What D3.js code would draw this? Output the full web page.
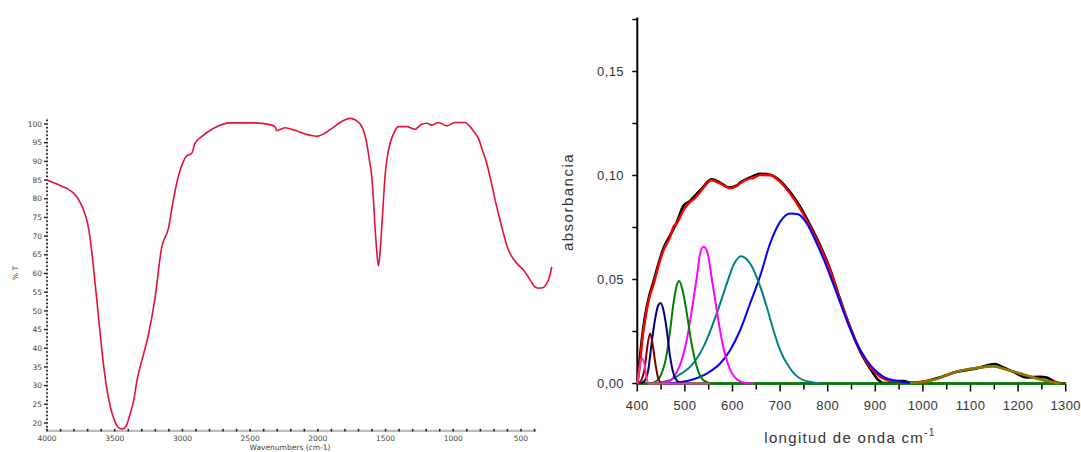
<!DOCTYPE html>
<html>
<head>
<meta charset="utf-8">
<script src="https://cdn.jsdelivr.net/npm/d3@7/dist/d3.min.js"></script>
<style>
  html, body { margin: 0; padding: 0; background: #fff; }
  svg { display: block; }
</style>
</head>
<body>
<svg id="chart" width="1081" height="452"></svg>
<script>
// ---------- IR spectrum (left panel): wavenumber (cm-1) vs %T ----------
const irWavenumber = [4000, 3900, 3820, 3770, 3720, 3695, 3670, 3645, 3620, 3595, 3560, 3530, 3500, 3470, 3440, 3415, 3390, 3360, 3335, 3290, 3255, 3204, 3153, 3104, 3067, 3030, 2993, 2968, 2932, 2907, 2858, 2772, 2648, 2476, 2340, 2315, 2304, 2275, 2242, 2170, 2107, 2050, 2008, 1959, 1910, 1836, 1790, 1762, 1720, 1688, 1660, 1639, 1620, 1602, 1590, 1578, 1565, 1553, 1540, 1528, 1515, 1504, 1490, 1467, 1440, 1405, 1343, 1282, 1240, 1196, 1159, 1110, 1048, 987, 913, 876, 845, 815, 785, 753, 720, 691, 660, 630, 600, 568, 520, 483, 433, 400, 371, 340, 309, 290, 273];
const irTransmittance = [85, 83.5, 82, 80, 76, 72.5, 66, 57.5, 48.5, 39.5, 29.5, 24, 20.5, 18.7, 18.4, 19.2, 22, 26, 31.5, 38, 43, 53, 67, 72, 79.7, 86, 90, 91.5, 92.1, 94.8, 96.6, 98.8, 100.3, 100.3, 99.7, 99.2, 98.2, 98.6, 99, 98.3, 97.5, 96.9, 96.7, 97.3, 98.5, 100.4, 101.3, 101.5, 101, 100, 98, 94.8, 90.5, 86, 80, 72.5, 66, 62, 66, 72.5, 80, 86, 90.5, 94.8, 97.5, 99.3, 99.3, 98.6, 99.8, 100.2, 99.7, 100.4, 99.5, 100.4, 100.4, 99.3, 97.8, 96.2, 93, 89.5, 84.5, 79.7, 75, 70.8, 67, 64.5, 62.3, 61, 58.3, 56.5, 56.1, 56.2, 57.4, 59, 61.8];
const irXTickLabels = [4000, 3500, 3000, 2500, 2000, 1500, 1000, 500];
const irYTickLabels = [20, 25, 30, 35, 40, 45, 50, 55, 60, 65, 70, 75, 80, 85, 90, 95, 100];

// ---------- Band deconvolution (right panel): wavenumber vs absorbance ----------
const expWn  = [400, 404, 410, 416, 425, 434, 445, 455, 469, 483, 497, 511, 518, 535, 556, 574, 593, 609, 616, 637, 658, 679, 700, 721, 742, 763, 784, 805, 826, 847, 868, 889, 905, 916, 930, 945, 960, 975, 985, 1015, 1050, 1071, 1099, 1120, 1151, 1169, 1190, 1218, 1246, 1260, 1277, 1290, 1300];
const expAbs = [0, 0.009, 0.022, 0.032, 0.042, 0.049, 0.058, 0.065, 0.0712, 0.0775, 0.0855, 0.0878, 0.0895, 0.0935, 0.0982, 0.0966, 0.0942, 0.0952, 0.0966, 0.0991, 0.1008, 0.1004, 0.0975, 0.092, 0.085, 0.0762, 0.0665, 0.055, 0.0405, 0.027, 0.0155, 0.0072, 0.002, 0.0002, 0.0003, 0.0012, 0.0012, 0.0003, 0.0003, 0.0016, 0.004, 0.0056, 0.0067, 0.0077, 0.0093, 0.0077, 0.0056, 0.0029, 0.0032, 0.0029, 0.0008, 0, 0];

const fitWn  = [400, 405, 410, 416, 425, 434, 445, 455, 469, 476, 483, 497, 511, 518, 532, 540, 556, 574, 595, 609, 616, 637, 644, 658, 679, 700, 721, 742, 763, 784, 805, 826, 847, 868, 889, 910, 938, 973, 1000, 1030, 1057, 1085, 1120, 1148, 1176, 1204, 1232, 1260, 1290, 1300];
const fitAbs = [0, 0.008, 0.02, 0.030, 0.041, 0.0475, 0.057, 0.064, 0.0705, 0.0754, 0.077, 0.0833, 0.0873, 0.0885, 0.0921, 0.0945, 0.0977, 0.0962, 0.0938, 0.0949, 0.0962, 0.0986, 0.0988, 0.1002, 0.1001, 0.0969, 0.0913, 0.0841, 0.0753, 0.0657, 0.0545, 0.040, 0.0272, 0.016, 0.008, 0.0032, 0.001, 0.0004, 0.001, 0.0022, 0.0048, 0.0064, 0.0077, 0.0083, 0.0067, 0.0048, 0.0029, 0.0013, 0.0002, 0];

const band411Wn  = [400, 404, 409, 414, 418, 423, 553];
const band411Abs = [0, 0.0064, 0.012, 0.0104, 0.0048, 0, 0];

const band427Wn  = [404, 411, 416, 421, 427, 432, 438, 444, 451];
const band427Abs = [0, 0.003, 0.008, 0.0176, 0.024, 0.0192, 0.0096, 0.0024, 0];

const band449Wn  = [407, 416, 423, 430, 437, 444, 449, 455, 462, 469, 476, 486, 496];
const band449Abs = [0, 0.0015, 0.0064, 0.0192, 0.0304, 0.0376, 0.0387, 0.0352, 0.0256, 0.0128, 0.0048, 0.0008, 0];

const band487Wn  = [428, 442, 451, 462, 469, 476, 483, 488, 495, 504, 514, 525, 539, 556];
const band487Abs = [0, 0.0015, 0.0048, 0.0144, 0.0256, 0.0385, 0.0473, 0.0493, 0.0449, 0.0337, 0.0192, 0.008, 0.0016, 0];

const band538Wn  = [450, 466, 476, 490, 504, 514, 525, 532, 539, 547, 556, 567, 577, 591, 609, 625, 644];
const band538Abs = [0, 0.0008, 0.003, 0.009, 0.021, 0.0345, 0.051, 0.0625, 0.0657, 0.0633, 0.0512, 0.0352, 0.0215, 0.009, 0.002, 0.0004, 0];

const band618Wn  = [428, 469, 490, 511, 539, 567, 588, 602, 618, 637, 658, 672, 686, 700, 721, 742, 770, 784];
const band618Abs = [0, 0.0016, 0.0045, 0.008, 0.0176, 0.0337, 0.048, 0.0569, 0.0612, 0.0577, 0.0468, 0.0368, 0.0256, 0.016, 0.0072, 0.0024, 0.0005, 0];

const band729Wn  = [460, 490, 511, 546, 574, 595, 616, 637, 658, 679, 700, 721, 738, 756, 777, 798, 819, 840, 861, 882, 903, 924, 952, 973];
const band729Abs = [0, 0.0006, 0.0016, 0.0048, 0.0096, 0.016, 0.0256, 0.0385, 0.0516, 0.0673, 0.0777, 0.0817, 0.0814, 0.0769, 0.0673, 0.0561, 0.0433, 0.0304, 0.0192, 0.0112, 0.0056, 0.0024, 0.0011, 0.0003];

const band1148Wn  = [973, 1001, 1029, 1057, 1085, 1120, 1148, 1176, 1204, 1232, 1260, 1288];
const band1148Abs = [0, 0.0008, 0.0021, 0.0048, 0.0064, 0.0077, 0.0083, 0.0067, 0.0048, 0.0029, 0.0013, 0];

const baselineWn  = [400, 1300];
const baselineAbs = [0, 0];

const absXTickLabels = [400, 500, 600, 700, 800, 900, 1000, 1100, 1200, 1300];
const absYTickLabels = [0, 0.05, 0.10, 0.15];

const zip = (xs, ys) => xs.map((x, i) => [x, ys[i]]);

const svg = d3.select("#chart");
svg.append("rect").attr("width", 1081).attr("height", 452).attr("fill", "#fff");

// ================= Left panel =================
const irX = d3.scaleLinear().domain([4000, 500]).range([47, 521]);
const irY = d3.scaleLinear().domain([20, 100]).range([423, 124]);
const irAxisBottom = 17.9, irAxisTop = 101.6, irAxisEndWn = 388;
const left = svg.append("g").attr("font-family", "Verdana, 'DejaVu Sans', sans-serif");

// vertical axis: faint line with a dotted run of minor ticks
left.append("line")
  .attr("x1", irX(4000)).attr("x2", irX(4000))
  .attr("y1", irY(irAxisTop)).attr("y2", irY(irAxisBottom))
  .attr("stroke", "#c8c8c8").attr("stroke-width", 1);
const minorY = d3.range(18, 102, 1);
left.append("g").selectAll("rect").data(minorY).join("rect")
  .attr("x", d => irX(4000) - (d % 5 === 0 ? 3 : 1))
  .attr("y", d => irY(d) - 0.7)
  .attr("width", d => (d % 5 === 0 ? 4 : 2))
  .attr("height", 1.4)
  .attr("fill", "#222");
left.append("g").selectAll("text").data(irYTickLabels).join("text")
  .attr("x", irX(4000) - 5).attr("y", d => irY(d))
  .attr("dy", "0.35em").attr("text-anchor", "end")
  .attr("font-size", 7.5).attr("fill", "#444")
  .text(d => d);

// horizontal axis: grey bar with tick dots every 100 cm-1
left.append("line")
  .attr("x1", irX(4000)).attr("x2", irX(irAxisEndWn))
  .attr("y1", irY(irAxisBottom)).attr("y2", irY(irAxisBottom))
  .attr("stroke", "#bdbdbd").attr("stroke-width", 2.2);
const minorX = d3.range(4000, 399, -100);
left.append("g").selectAll("rect").data(minorX).join("rect")
  .attr("x", d => irX(d) - 0.8)
  .attr("y", irY(irAxisBottom) - 2)
  .attr("width", 1.6).attr("height", 2.6)
  .attr("fill", "#222");
left.append("g").selectAll("text").data(irXTickLabels).join("text")
  .attr("x", d => irX(d)).attr("y", 441)
  .attr("text-anchor", "middle")
  .attr("font-size", 7.5).attr("fill", "#444")
  .text(d => d);

left.append("text")
  .attr("transform", `translate(18,273) rotate(-90)`)
  .attr("text-anchor", "middle").attr("font-size", 7.5).attr("fill", "#444")
  .text("% T");
left.append("text")
  .attr("x", 290).attr("y", 449.5)
  .attr("text-anchor", "middle").attr("font-size", 7.5).attr("fill", "#444")
  .text("Wavenumbers (cm-1)");

const irLine = d3.line().x(d => irX(d[0])).y(d => irY(d[1])).curve(d3.curveMonotoneX);
left.append("path")
  .datum(zip(irWavenumber, irTransmittance))
  .attr("d", irLine)
  .attr("fill", "none").attr("stroke", "#e5103c").attr("stroke-width", 1.6)
  .attr("stroke-linejoin", "round");

// ================= Right panel =================
const ax = d3.scaleLinear().domain([400, 1300]).range([637.3, 1065.7]);
const ay = d3.scaleLinear().domain([0, 0.175]).range([383.5, 19.5]);
const right = svg.append("g").attr("font-family", "Arial, 'Liberation Sans', sans-serif");

const comma = v => d3.format(".2f")(v).replace(".", ",");

// y axis
right.append("line")
  .attr("x1", ax(400)).attr("x2", ax(400))
  .attr("y1", ay(0.175) - 2).attr("y2", ay(0) + 1)
  .attr("stroke", "#000").attr("stroke-width", 2);
right.append("g").selectAll("line").data(d3.range(0, 0.176, 0.025)).join("line")
  .attr("x1", ax(400) - 5).attr("x2", ax(400))
  .attr("y1", d => ay(d)).attr("y2", d => ay(d))
  .attr("stroke", "#000").attr("stroke-width", 1.5);
right.append("g").selectAll("text").data(absYTickLabels).join("text")
  .attr("x", 624).attr("y", d => ay(d))
  .attr("dy", "0.36em").attr("text-anchor", "end")
  .attr("font-size", 13).attr("fill", "#333").attr("letter-spacing", 0.4)
  .text(comma);

// x axis
right.append("line")
  .attr("x1", ax(400)).attr("x2", ax(1300))
  .attr("y1", ay(0)).attr("y2", ay(0))
  .attr("stroke", "#000").attr("stroke-width", 2);
right.append("g").selectAll("line").data(d3.range(400, 1301, 50)).join("line")
  .attr("x1", d => ax(d)).attr("x2", d => ax(d))
  .attr("y1", ay(0)).attr("y2", d => ay(0) + (d % 100 === 0 ? 8 : 6))
  .attr("stroke", "#000").attr("stroke-width", 1.5);
right.append("g").selectAll("text").data(absXTickLabels).join("text")
  .attr("x", d => ax(d)).attr("y", 409.5)
  .attr("text-anchor", "middle")
  .attr("font-size", 13).attr("fill", "#333").attr("letter-spacing", 0.4)
  .text(d => d);

// axis titles
const xTitle = right.append("text")
  .attr("x", 850).attr("y", 443)
  .attr("text-anchor", "middle")
  .attr("font-size", 15).attr("fill", "#333").attr("letter-spacing", 1.3);
xTitle.append("tspan").text("longitud de onda cm");
xTitle.append("tspan").attr("dy", -7).attr("font-size", 10).text("-1");

right.append("text")
  .attr("transform", "translate(573,202) rotate(-90)")
  .attr("text-anchor", "middle")
  .attr("font-size", 15).attr("fill", "#333").attr("letter-spacing", 1.5)
  .text("absorbancia");

const absLine = d3.line().x(d => ax(d[0])).y(d => ay(d[1])).curve(d3.curveMonotoneX);
const series = [
  { wn: expWn, ab: expAbs, color: "#000000", w: 2.6 },
  { wn: fitWn, ab: fitAbs, color: "#ff0000", w: 2.4 },
  { wn: baselineWn, ab: baselineAbs, color: "#008000", w: 2.4 },
  { wn: band729Wn, ab: band729Abs, color: "#0000ff", w: 2 },
  { wn: band618Wn, ab: band618Abs, color: "#008080", w: 2 },
  { wn: band538Wn, ab: band538Abs, color: "#ff00ff", w: 2 },
  { wn: band487Wn, ab: band487Abs, color: "#008000", w: 2 },
  { wn: band449Wn, ab: band449Abs, color: "#000080", w: 2 },
  { wn: band427Wn, ab: band427Abs, color: "#800000", w: 2 },
  { wn: band411Wn, ab: band411Abs, color: "#ff3399", w: 2 },
  { wn: band1148Wn, ab: band1148Abs, color: "#808000", w: 2.4 }
];
right.append("g").selectAll("path").data(series).join("path")
  .attr("d", s => absLine(zip(s.wn, s.ab)))
  .attr("fill", "none")
  .attr("stroke", s => s.color)
  .attr("stroke-width", s => s.w)
  .attr("stroke-linejoin", "round");
</script>
</body>
</html>
